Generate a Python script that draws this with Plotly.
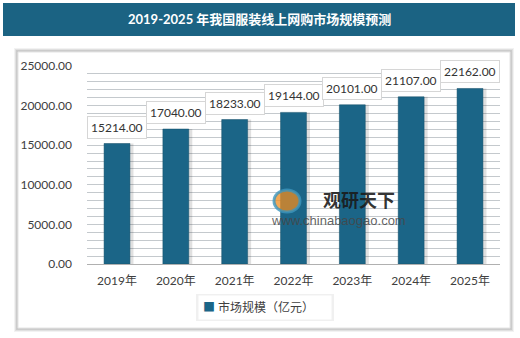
import plotly.graph_objects as go

# Online clothing sales forecast, 2019-2025 (unit: 100 million yuan)
years = ["2019年", "2020年", "2021年", "2022年", "2023年", "2024年", "2025年"]
market_size = [15214.00, 17040.00, 18233.00, 19144.00, 20101.00, 21107.00, 22162.00]
y_ticks = [0, 5000, 10000, 15000, 20000, 25000]
series_name = "市场规模（亿元）"
title_text = "2019-2025 年我国服装线上网购市场规模预测"

BAR = "#1b6587"
FONT = "Lato, 'Noto Sans CJK SC', sans-serif"

W, H = 520, 338
L, R, T, B = 87, 20, 66, 74
pw, ph = W - L - R, H - T - B


def px_x(x):
    return (x - L) / pw


def px_y(y):
    return (H - B - y) / ph


fig = go.Figure()

# soft drop shadow behind the bars
fig.add_trace(go.Bar(
    x=years, y=market_size, width=0.5, offset=-0.22,
    marker=dict(color="rgba(0,0,0,0.12)", line_width=0),
    hoverinfo="skip", showlegend=False,
))
fig.add_trace(go.Bar(
    x=years, y=market_size, name=series_name, width=0.44,
    marker=dict(color=BAR, line=dict(color="#14506b", width=0.5)),
    showlegend=False,
))

# value labels in small white boxes
for yr, v in zip(years, market_size):
    fig.add_annotation(
        x=yr, y=v, text=f"{v:.2f}", showarrow=False,
        yanchor="bottom", yshift=5,
        font=dict(family=FONT, size=12, color="#333333"),
        bgcolor="white", bordercolor="#d6d6d6", borderwidth=1, borderpad=3,
    )

shapes = []
# card shadow layers
for i, a in enumerate([0.05, 0.07, 0.09]):
    d = 4 - i
    shapes.append(dict(
        type="rect", xref="paper", yref="paper", layer="below",
        x0=px_x(18 - d), x1=px_x(510 + d), y0=px_y(328 + d), y1=px_y(52 - d),
        fillcolor=f"rgba(0,0,0,{a})", line_width=0,
    ))
# white card
shapes.append(dict(
    type="rect", xref="paper", yref="paper", layer="below",
    x0=px_x(18), x1=px_x(510), y0=px_y(328), y1=px_y(52),
    fillcolor="white", line=dict(color="#e4e4e4", width=1),
))
# title banner
shapes.append(dict(
    type="rect", xref="paper", yref="paper", layer="below",
    x0=px_x(3), x1=px_x(515), y0=px_y(36), y1=px_y(3),
    fillcolor="#1b6383", line_width=0,
))
# legend box shadow
shapes.append(dict(
    type="rect", xref="paper", yref="paper", layer="below",
    x0=px_x(196), x1=px_x(334), y0=px_y(321), y1=px_y(294),
    fillcolor="rgba(0,0,0,0.06)", line_width=0,
))
# watermark logo
shapes.append(dict(
    type="circle", xref="paper", yref="paper", layer="above",
    x0=px_x(274), x1=px_x(300), y0=px_y(212), y1=px_y(190),
    fillcolor="rgba(240,140,30,0.75)", line=dict(color="rgba(60,150,190,0.8)", width=3),
))
fig.update_layout(shapes=shapes)

fig.add_annotation(
    xref="paper", yref="paper", x=px_x(259), y=px_y(19),
    xanchor="center", yanchor="middle",
    text=f"<b>{title_text}</b>", showarrow=False,
    font=dict(family=FONT, size=13, color="white"),
)
# legend: series swatch and name
fig.add_annotation(
    xref="paper", yref="paper", x=px_x(198), y=px_y(307),
    xanchor="left", yanchor="middle",
    text=f"<span style='color:{BAR}'>■</span> {series_name}", showarrow=False,
    bgcolor="white", borderpad=4, width=124, align="left",
    font=dict(family=FONT, size=12, color="#404040"),
)
fig.add_annotation(
    xref="paper", yref="paper", x=px_x(359), y=px_y(199),
    xanchor="center", yanchor="middle",
    text="<b>观研天下</b>", showarrow=False,
    font=dict(family="'Noto Sans CJK SC', sans-serif", size=18, color="rgba(25,25,25,0.9)"),
)
fig.add_annotation(
    xref="paper", yref="paper", x=px_x(338), y=px_y(220),
    xanchor="center", yanchor="middle",
    text="www.chinabaogao.com", showarrow=False,
    font=dict(family="Liberation Sans, sans-serif", size=13, color="rgba(70,70,70,0.85)"),
)

fig.update_layout(
    width=W, height=H,
    margin=dict(l=L, r=R, t=T, b=B),
    paper_bgcolor="white",
    plot_bgcolor="#eaf1f6",
    barmode="overlay",
    font=dict(family=FONT, size=12, color="#404040"),
    showlegend=False,
    xaxis=dict(
        showgrid=False, showline=False, ticks="", ticklabelstandoff=8,
        tickfont=dict(size=12, color="#404040"),
    ),
    yaxis=dict(
        range=[0, 25000], tickvals=y_ticks, tickformat=".2f",
        showgrid=True, gridcolor="#c4c9cd", gridwidth=1,
        minor=dict(dtick=1000, showgrid=True, gridcolor="#c4c9cd", gridwidth=1),
        zeroline=True, zerolinecolor="#b0b0b0", zerolinewidth=1,
        showline=False, ticks="", ticklabelstandoff=14,
        tickfont=dict(size=12, color="#404040"),
    ),
)

fig.write_html("out.html")
